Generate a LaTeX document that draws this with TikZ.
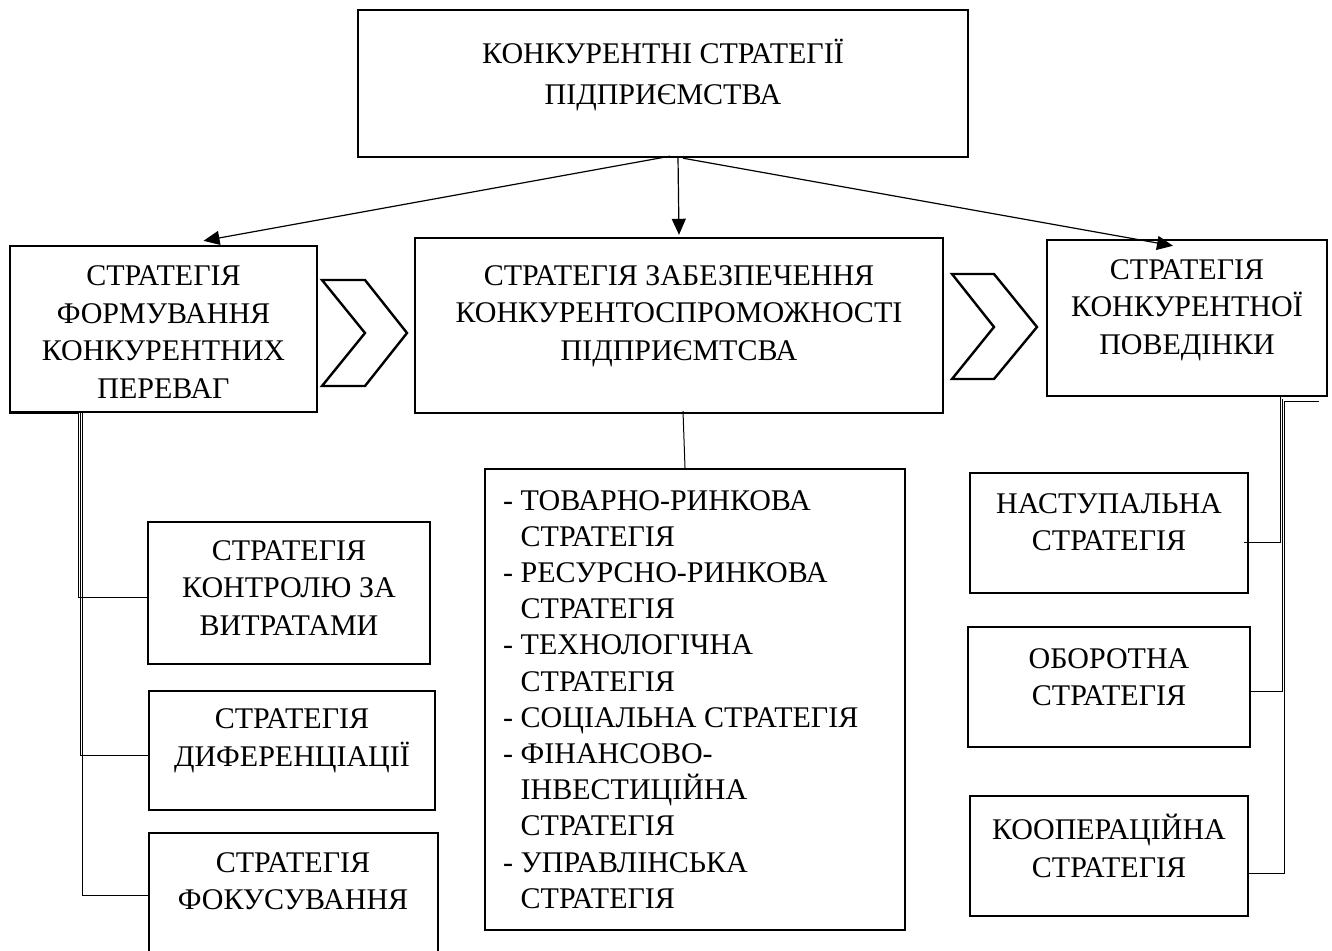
\documentclass[tikz,border=0pt]{standalone}
\usepackage{fontspec}
\setmainfont{Liberation Serif}
\usetikzlibrary{arrows.meta,calc}
\begin{document}
\begin{tikzpicture}[x=1pt,y=-1pt,
  box/.style={draw,line width=2.4pt,inner sep=0pt,rectangle},
  txt/.style={align=center,inner sep=0pt,font=\fontsize{30}{37.5}\selectfont},
  conn/.style={line width=1pt},
  arr/.style={line width=1.2pt,-{Triangle[length=16pt,width=14pt]}},
  chev/.style={draw,line width=2.4pt,line join=miter}]
\useasboundingbox (0,0) rectangle (1332,950);
\fill[white] (0,0) rectangle (1332,950);
% main boxes
\node[box,minimum width=610pt,minimum height=147pt] (top) at (663,83.5) {};
\node[txt] (toptxt) at (663,75) {КОНКУРЕНТНІ СТРАТЕГІЇ\\[3pt]ПІДПРИЄМСТВА};
\node[box,minimum width=307pt,minimum height=166pt] (lb) at (163.5,329) {};
\node[txt] (lbtxt) at (163.5,332) {СТРАТЕГІЯ\\ФОРМУВАННЯ\\КОНКУРЕНТНИХ\\ПЕРЕВАГ};
\node[box,minimum width=528pt,minimum height=175pt] (mb) at (679,325.5) {};
\node[txt] (mbtxt) at (679,316) {СТРАТЕГІЯ ЗАБЕЗПЕЧЕННЯ\\КОНКУРЕНТОСПРОМОЖНОСТІ\\ПІДПРИЄМТСВА};
\node[box,minimum width=280pt,minimum height=156pt] (rb) at (1187,318) {};
\node[txt] (rbtxt) at (1187,310) {СТРАТЕГІЯ\\КОНКУРЕНТНОЇ\\ПОВЕДІНКИ};
% chevrons
\draw[chev] (322,280) -- (365,280) -- (407,333) -- (365,386) -- (322,386) -- (365,333) -- cycle;
\draw[chev] (952,274) -- (994,274) -- (1037,327) -- (994,379) -- (952,379) -- (994,327) -- cycle;
% list box
\node[box,minimum width=420pt,minimum height=461pt] (lst) at (695,699.5) {};
\node[txt,align=left,anchor=north west,font=\fontsize{30}{36.2}\selectfont] (lsttxt) at (503,490) {%
- ТОВАРНО-РИНКОВА\\\hphantom{-}\ СТРАТЕГІЯ\\
- РЕСУРСНО-РИНКОВА\\\hphantom{-}\ СТРАТЕГІЯ\\
- ТЕХНОЛОГІЧНА\\\hphantom{-}\ СТРАТЕГІЯ\\
- СОЦІАЛЬНА СТРАТЕГІЯ\\
- ФІНАНСОВО-\\\hphantom{-}\ ІНВЕСТИЦІЙНА\\\hphantom{-}\ СТРАТЕГІЯ\\
- УПРАВЛІНСЬКА\\\hphantom{-}\ СТРАТЕГІЯ};
% left sub boxes
\node[box,minimum width=282pt,minimum height=142pt] (ba) at (289,593) {};
\node[txt] (batxt) at (289,588) {СТРАТЕГІЯ\\КОНТРОЛЮ ЗА\\ВИТРАТАМИ};
\node[box,minimum width=286pt,minimum height=119pt] (bb) at (292,750.5) {};
\node[txt] (bbtxt) at (292,741) {СТРАТЕГІЯ\\ДИФЕРЕНЦІАЦІЇ};
\node[box,minimum width=289pt,minimum height=132pt] (bc) at (293.5,899) {};
\node[txt] (bctxt) at (293,881) {СТРАТЕГІЯ\\ФОКУСУВАННЯ};
% right sub boxes
\node[box,minimum width=278pt,minimum height=120pt] (nd) at (1109,533) {};
\node[txt] (ndtxt) at (1109,522) {НАСТУПАЛЬНА\\СТРАТЕГІЯ};
\node[box,minimum width=282pt,minimum height=120pt] (ne) at (1109,687) {};
\node[txt] (netxt) at (1109,677) {ОБОРОТНА\\СТРАТЕГІЯ};
\node[box,minimum width=278pt,minimum height=120pt] (nf) at (1109,856) {};
\node[txt] (nftxt) at (1109,846) {КООПЕРАЦІЙНА\\СТРАТЕГІЯ};
% arrows
\draw[arr] ($(top.south)+(7,-2)$) -- ($(lb.north)+(40,-4)$);
\draw[arr] ($(top.south)+(15,-1)$) -- ($(mb.north)+(0,-2)$);
\draw[arr] ($(top.south)+(20,0)$) -- ($(rb.north)+(-14,7)$);
% middle to list
\draw[conn] ($(mb.south)+(4,-3)$) -- ($(lst.north)+(-10,0)$);
% left connectors
\draw[conn] (lb.south west) -- ++(70,0) |- ($(ba.west)+(0,4)$);
\draw[conn] ($(lb.south west)+(72,0)$) |- ($(bb.west)+(0,5)$);
\draw[conn] ($(lb.south west)+(74,0)$) |- ($(bc.west)+(0,-4)$);
% right connectors
\draw[conn] ($(rb.south east)+(-48,0)$) |- ($(nd.east)+(-5,9)$);
\draw[conn] ($(rb.south east)+(-46,2)$) |- ($(ne.east)+(0,4)$);
\draw[conn] ($(rb.south east)+(-9,4)$) -- ++(-35,0) |- ($(nf.east)+(0,17)$);
\end{tikzpicture}
\end{document}
